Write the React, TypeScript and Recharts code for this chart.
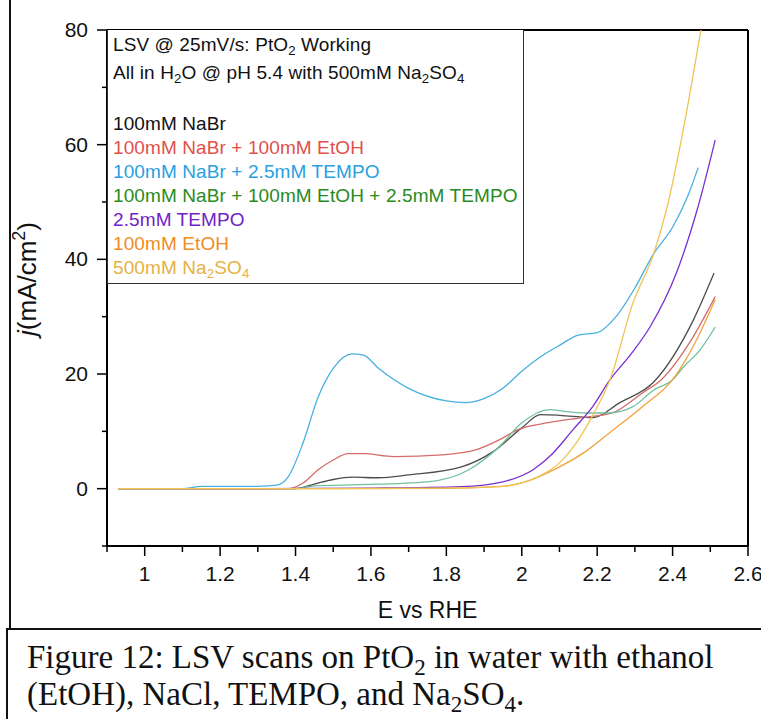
import { LineChart, Line, XAxis, YAxis, ReferenceLine, Label } from "recharts";

// E vs RHE (V) and current density j (mA/cm2)
const nabrE = [0.93, 1.3, 1.4, 1.45, 1.5, 1.55, 1.62, 1.7, 1.84, 1.925, 2.0, 2.05, 2.1, 2.19, 2.26, 2.35, 2.455, 2.51];
const nabrJ = [0, 0, 0, 0.8, 1.6, 2, 1.9, 2.4, 3.8, 6.5, 10.6, 12.9, 12.8, 12.4, 15, 18.6, 29.4, 37.6];

const nabrEtohE = [0.93, 1.38, 1.42, 1.46, 1.5, 1.54, 1.58, 1.66, 1.79, 1.88, 1.94, 1.99, 2.07, 2.16, 2.24, 2.32, 2.37, 2.45, 2.513];
const nabrEtohJ = [0, 0, 1, 3.3, 5, 6.1, 6.1, 5.6, 5.9, 6.8, 8.5, 10.3, 11.5, 12.4, 13.2, 16.7, 19, 26, 33.5];

const nabrTempoE = [0.93, 1.1, 1.15, 1.3, 1.35, 1.38, 1.42, 1.46, 1.5, 1.55, 1.58, 1.62, 1.7, 1.8, 1.85, 1.9, 1.95, 2.0, 2.05, 2.1, 2.15, 2.2, 2.25, 2.3, 2.35, 2.4, 2.44, 2.468];
const nabrTempoJ = [0, 0, 0.4, 0.4, 0.6, 2, 8, 16, 21, 23.5, 23.3, 21, 17.5, 15.3, 15, 15.7, 17.5, 20.5, 23, 25, 26.8, 27.2, 30, 35, 41, 45.6, 51, 56];

const allThreeE = [0.93, 1.4, 1.45, 1.57, 1.75, 1.86, 1.94, 2.0, 2.075, 2.1, 2.17, 2.23, 2.295, 2.35, 2.4, 2.43, 2.473, 2.513];
const allThreeJ = [0, 0, 0.5, 0.7, 1.2, 3.3, 7.3, 11.5, 13.8, 13.6, 13.2, 13.2, 14.3, 17.2, 19, 21.3, 24.2, 28.2];

const tempoE = [0.93, 1.3, 1.6, 1.84, 1.95, 2.03, 2.08, 2.136, 2.19, 2.234, 2.29, 2.34, 2.41, 2.465, 2.513];
const tempoJ = [0, 0, 0.1, 0.35, 1.2, 3.3, 6, 10.3, 14.5, 19, 23.5, 28.2, 37.6, 48.6, 60.8];

const etohE = [0.93, 1.5, 1.8, 1.925, 2.0, 2.1, 2.17, 2.234, 2.32, 2.4, 2.46, 2.513];
const etohJ = [0, 0, 0.05, 0.3, 1, 3.8, 6.5, 9.8, 14.3, 19, 25.5, 33];

const sulfateE = [0.93, 1.5, 1.8, 1.95, 2.0, 2.05, 2.1, 2.15, 2.19, 2.234, 2.295, 2.35, 2.385, 2.428, 2.475];
const sulfateJ = [0, 0, 0.1, 0.4, 1, 2.3, 4.5, 8.5, 13, 19, 32.4, 41, 49, 62.5, 80];

const eTicks = [0.9, 1, 1.1, 1.2, 1.3, 1.4, 1.5, 1.6, 1.7, 1.8, 1.9, 2, 2.1, 2.2, 2.3, 2.4, 2.5, 2.6];
const eLabels = ["1", "1.2", "1.4", "1.6", "1.8", "2", "2.2", "2.4", "2.6"];
const jTicks = [-10, 0, 10, 20, 30, 40, 50, 60, 70, 80];
const jLabels = ["0", "20", "40", "60", "80"];

const toRows = (e: number[], j: number[]) => e.map((v, i) => ({ e: v, j: j[i] }));

const series = [
  { name: "100mM NaBr", e: nabrE, j: nabrJ, stroke: "#4d4d4d", text: "#111111" },
  { name: "100mM NaBr + 100mM EtOH", e: nabrEtohE, j: nabrEtohJ, stroke: "#d46c6c", text: "#e2504a" },
  { name: "100mM NaBr + 2.5mM TEMPO", e: nabrTempoE, j: nabrTempoJ, stroke: "#47b0de", text: "#2a9fe0" },
  { name: "100mM NaBr + 100mM EtOH + 2.5mM TEMPO", e: allThreeE, j: allThreeJ, stroke: "#6fc09c", text: "#2a8a22" },
  { name: "2.5mM TEMPO", e: tempoE, j: tempoJ, stroke: "#7a30d0", text: "#7022c8" },
  { name: "100mM EtOH", e: etohE, j: etohJ, stroke: "#f2a23c", text: "#f08c22" },
  { name: "500mM Na2SO4", e: sulfateE, j: sulfateJ, stroke: "#f0c356", text: "#e6b144" },
];

const font = "'Liberation Sans', Arial, sans-serif";

const ETick = (props: any) => {
  const { x, y, payload } = props;
  const txt = String(Math.round(payload.value * 10) / 10);
  const major = eLabels.includes(txt);
  return (
    <g>
      <line x1={x} x2={x} y1={y} y2={y + (major ? 10 : 6)} stroke="#000" strokeWidth={1.5} />
      {major && (
        <text x={x} y={y + 35} textAnchor="middle" fontSize={21} fontFamily={font} fill="#111">
          {txt}
        </text>
      )}
    </g>
  );
};

const JTick = (props: any) => {
  const { x, y, payload } = props;
  const txt = String(payload.value);
  const major = jLabels.includes(txt);
  return (
    <g>
      <line x1={x} x2={x - (major ? 10 : 5)} y1={y} y2={y} stroke="#000" strokeWidth={1.5} />
      {major && (
        <text x={x - 19} y={y + 7} textAnchor="end" fontSize={21} fontFamily={font} fill="#111">
          {txt}
        </text>
      )}
    </g>
  );
};

const sub = (s: string) => (
  <sub style={{ fontSize: "0.7em", verticalAlign: "-0.3em", lineHeight: 0 }}>{s}</sub>
);

const legendLabel = (name: string) =>
  name === "500mM Na2SO4" ? (
    <>500mM Na{sub("2")}SO{sub("4")}</>
  ) : (
    name
  );

const LegendBox = () => (
  <div
    style={{
      position: "absolute",
      left: 107,
      top: 30,
      width: 417,
      height: 254,
      border: "1px solid #333",
      borderTop: "none",
      boxSizing: "border-box",
      background: "#fff",
      fontFamily: font,
      fontSize: 19,
      lineHeight: "24px",
      padding: "3px 0 0 5px",
      letterSpacing: 0.1,
      color: "#111",
    }}
  >
    <div>LSV @ 25mV/s: PtO{sub("2")} Working</div>
    <div style={{ marginTop: 4 }}>All in H{sub("2")}O @ pH 5.4 with 500mM Na{sub("2")}SO{sub("4")}</div>
    <div style={{ height: 27 }} />
    {series.map((s) => (
      <div key={s.name} style={{ color: s.text }}>
        {legendLabel(s.name)}
      </div>
    ))}
  </div>
);

const YTitle = () => (
  <text transform="translate(36,279) rotate(-90)" textAnchor="middle" fontSize={26} fontFamily={font} fill="#111">
    <tspan fontStyle="italic">j</tspan>
    <tspan>(mA/cm</tspan>
    <tspan fontSize={18} dy={-11}>2</tspan>
    <tspan dy={11}>)</tspan>
  </text>
);

export default function App() {
  return (
    <div style={{ position: "absolute", left: 0, top: 0, width: 761, height: 719, background: "#fff", overflow: "hidden" }}>
      <div style={{ position: "absolute", left: 9, top: 0, width: 2, height: 630, background: "#111" }} />
      <LineChart width={761} height={628} margin={{ top: 30, right: 13, left: 0, bottom: 22 }}>
        <XAxis
          type="number"
          dataKey="e"
          domain={[0.9, 2.6]}
          ticks={eTicks}
          interval={0}
          allowDataOverflow
          axisLine={{ stroke: "#000", strokeWidth: 2 }}
          tickLine={false}
          tickSize={0}
          tickMargin={0}
          tick={<ETick />}
          height={60}
        >
          <Label value="E vs RHE" position="insideBottom" offset={-12} fontSize={23} fontFamily={font} fill="#111" />
        </XAxis>
        <YAxis
          type="number"
          dataKey="j"
          domain={[-10, 80]}
          ticks={jTicks}
          interval={0}
          allowDataOverflow
          axisLine={{ stroke: "#000", strokeWidth: 2 }}
          tickLine={false}
          tickSize={0}
          tickMargin={0}
          tick={<JTick />}
          width={107}
        >
          <Label content={<YTitle />} />
        </YAxis>
        <ReferenceLine y={80} stroke="#000" strokeWidth={2} />
        <ReferenceLine x={2.6} stroke="#000" strokeWidth={2} />
        {series.map((s) => (
          <Line
            key={s.name}
            data={toRows(s.e, s.j)}
            dataKey="j"
            name={s.name}
            type="monotone"
            stroke={s.stroke}
            strokeWidth={1.3}
            dot={false}
            isAnimationActive={false}
          />
        ))}
      </LineChart>
      <LegendBox />
      <div
        style={{
          position: "absolute",
          left: 6,
          top: 628,
          width: 755,
          height: 91,
          borderTop: "2px solid #111",
          borderLeft: "2px solid #111",
          boxSizing: "border-box",
          fontFamily: "'Liberation Serif', 'Times New Roman', serif",
          fontSize: 33,
          lineHeight: "37px",
          padding: "9px 0 0 19px",
          color: "#111",
          whiteSpace: "nowrap",
        }}
      >
        Figure 12: LSV scans on PtO{sub("2")} in water with ethanol
        <br />
        (EtOH), NaCl, TEMPO, and Na{sub("2")}SO{sub("4")}.
      </div>
    </div>
  );
}
